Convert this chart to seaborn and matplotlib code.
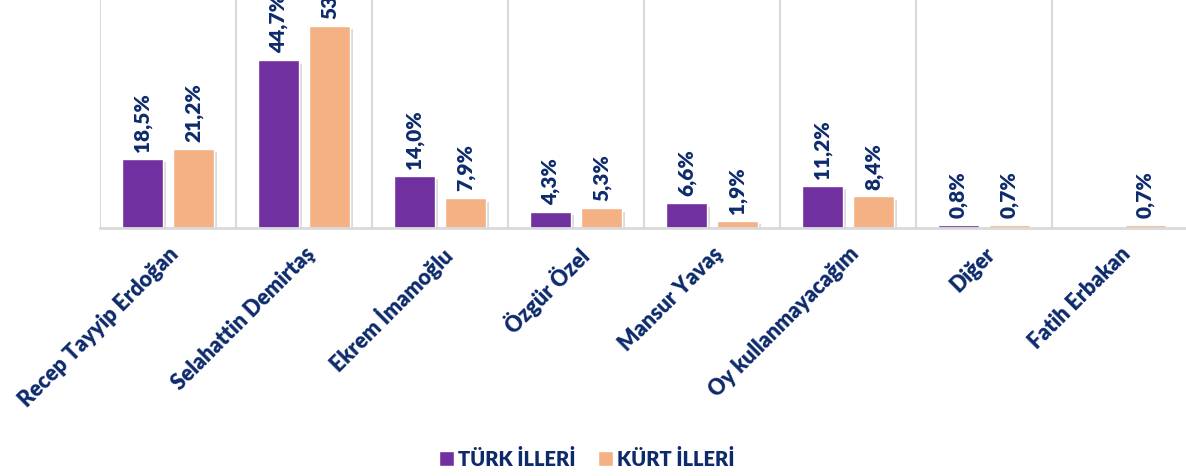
import numpy as np
import pandas as pd
import matplotlib
matplotlib.use("Agg")
import matplotlib.pyplot as plt
import matplotlib.patheffects as pe
from matplotlib.patches import Patch
import seaborn as sns

categories = ["Recep Tayyip Erdoğan", "Selahattin Demirtaş", "Ekrem İmamoğlu", "Özgür Özel",
              "Mansur Yavaş", "Oy kullanmayacağım", "Diğer", "Fatih Erbakan"]
turk = [18.5, 44.7, 14.0, 4.3, 6.6, 11.2, 0.8, np.nan]
kurt = [21.2, 53.9, 7.9, 5.3, 1.9, 8.4, 0.7, 0.7]
series = ["TÜRK İLLERİ", "KÜRT İLLERİ"]
colors = ["#7030A0", "#F4B183"]
navy = "#0D2A6B"

df = pd.DataFrame({
    "cat": categories * 2,
    "series": [series[0]] * len(categories) + [series[1]] * len(categories),
    "val": turk + kurt,
})

sns.set_theme(style="white")
plt.rcParams["font.family"] = ["Lato", "DejaVu Sans"]
plt.rcParams["font.weight"] = "bold"
W = "heavy"

fig = plt.figure(figsize=(11.86, 4.76), dpi=100)
ax = fig.add_axes([100 / 1186, 248 / 476, 1088 / 1186, 228 / 476])

sns.barplot(data=df, x="cat", y="val", hue="series", order=categories, hue_order=series,
            palette=colors, width=0.75, gap=0.21, ax=ax, legend=False, saturation=1)

ax.set_ylim(0, 60.8)
ax.set_xlim(-0.5, len(categories) - 0.5)

shadow = [pe.SimplePatchShadow(offset=(2.5, -2.5), shadow_rgbFace="#9a9a9a", alpha=0.35), pe.Normal()]
for cont in ax.containers:
    for p in cont:
        p.set_path_effects(shadow)
        h = p.get_height()
        if np.isfinite(h) and h > 0:
            ax.annotate(f"{h:.1f}".replace(".", ",") + "%",
                        (p.get_x() + p.get_width() / 2, h), xytext=(0, 5),
                        textcoords="offset points", rotation=90, ha="center", va="bottom",
                        fontsize=15, fontweight=W, color=navy, annotation_clip=False)

for b in np.arange(-0.5, len(categories) + 0.5, 1):
    ax.axvline(b, color="#D9D9D9", lw=1.5, zorder=0)

for s in ["top", "right", "left"]:
    ax.spines[s].set_visible(False)
ax.spines["bottom"].set_color("#D9D9D9")
ax.spines["bottom"].set_linewidth(2)
ax.set_yticks([])
ax.set_xlabel("")
ax.set_ylabel("")
ax.tick_params(axis="x", length=0, pad=11)
ax.set_xticks(range(len(categories)))
ax.set_xticklabels(categories, rotation=45, ha="right", rotation_mode="anchor",
                   fontsize=15.5, fontweight=W, color=navy)

handles = [Patch(facecolor=c, label=s) for c, s in zip(colors, series)]
fig.legend(handles=handles, loc="center", bbox_to_anchor=(0.495, 0.036), ncol=2, frameon=False,
           handlelength=0.75, handleheight=0.75, handletextpad=0.2, columnspacing=1.1,
           prop={"size": 14.5, "weight": W}, labelcolor=navy)

fig.savefig("out.png", dpi=100)
